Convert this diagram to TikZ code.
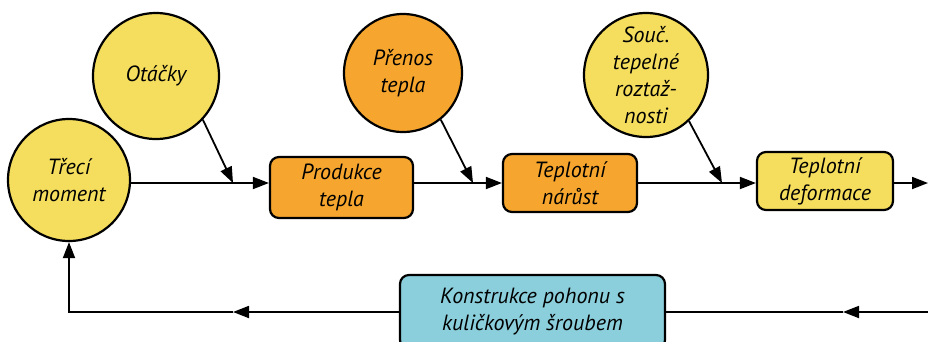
\documentclass[tikz,border=0pt]{standalone}
\usepackage{fontspec}
\setmainfont{PT Sans}
\usetikzlibrary{arrows.meta}
\definecolor{ylw}{RGB}{245,222,94}
\definecolor{org}{RGB}{246,166,46}
\definecolor{blu}{RGB}{139,207,220}
\tikzset{
  txt/.style={font=\fontsize{22}{27}\selectfont\itshape, align=center, text=black},
  bubble/.style={txt, circle, draw=black, line width=2.2pt, inner sep=0pt},
  stage/.style={txt, rectangle, rounded corners=9pt, draw=black, line width=2.2pt, inner sep=0pt},
  link/.style={line width=1.8pt, draw=black},
  tip/.style={link, -{Triangle[length=16pt,width=12pt]}},
}
\begin{document}
\begin{tikzpicture}[x=1pt,y=-1pt]
\useasboundingbox (0,0) rectangle (928,341);
\begin{scope}
\clip (0,0) rectangle (928,341);
% round inputs
\node[bubble, fill=ylw, minimum size=122pt] (tm) at (69,180) {Třecí\\moment};
\node[bubble, fill=ylw, minimum size=126pt] (ot) at (156,76) {Otáčky};
\node[bubble, fill=org, minimum size=118pt] (pr) at (403,73) {Přenos\\tepla};
\node[bubble, fill=ylw, minimum size=124pt] (sc) at (646,75) {Souč.\\tepelné\\roztaž-\\nosti};
% process stages
\node[stage, fill=org, minimum width=143pt, minimum height=61pt] (pt) at (341.5,187.5) {Produkce\\tepla};
\node[stage, fill=org, minimum width=134pt, minimum height=58pt] (tn) at (570,183) {Teplotní\\nárůst};
\node[stage, fill=ylw, minimum width=136pt, minimum height=58pt] (tf) at (825,181) {Teplotní\\deformace};
\node[stage, fill=blu, minimum width=265pt, minimum height=74pt] (kp) at (532.5,312) {Konstrukce pohonu s\\kuličkovým šroubem};
% junctions on the main line
\coordinate (ml) at (0,183);
\coordinate (j1) at (233,183);
\coordinate (j2) at (473,183);
\coordinate (j3) at (722,183);
\coordinate (out) at (928,183);
% feedback path
\coordinate (fr) at (928,312);
\coordinate (fm) at (843,312);
\coordinate (fl) at (233,312);
\coordinate (fc) at (69,312);
% main chain
\draw[tip] (tm.east |- ml) -- (pt.west |- ml);
\draw[tip] (pt.east |- ml) -- (tn.west);
\draw[tip] (tn.east) -- (tf.west |- ml);
\draw[tip] (tf.east |- ml) -- (out);
% side influences
\draw[tip] (ot.-43) -- (j1);
\draw[tip] (pr.-51.5) -- (j2);
\draw[tip] (sc.-47) -- (j3);
% feedback
\draw[tip] (fr) -- (fm);
\draw[link] (fm) -- (kp.east);
\draw[tip] (kp.west) -- (fl);
\draw[tip, line join=miter] (fl) -- (fc) -- (tm.south);
\end{scope}
\end{tikzpicture}
\end{document}
